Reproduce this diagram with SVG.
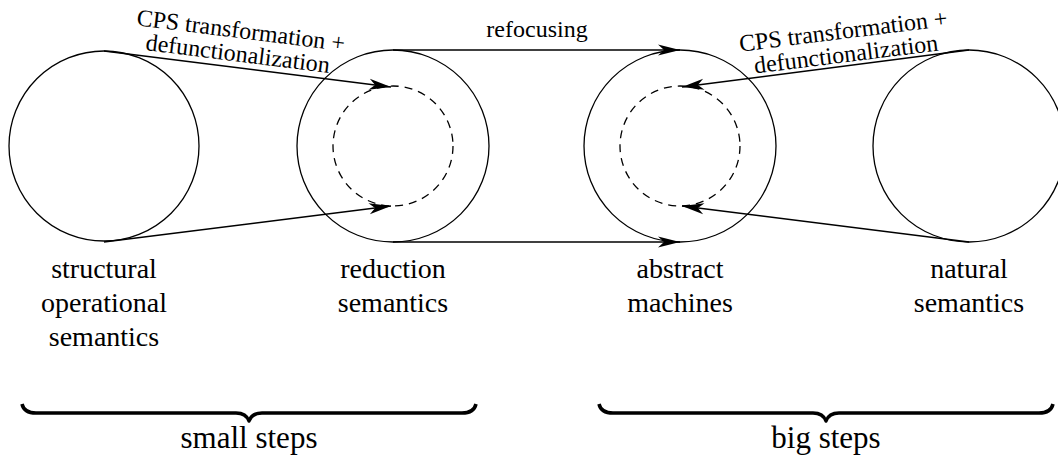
<svg xmlns="http://www.w3.org/2000/svg" width="1058" height="457" viewBox="0 0 1058 457" font-family="'Liberation Serif', 'DejaVu Serif', 'Times New Roman', serif">
<style>
.c{fill:none;stroke:#000;stroke-width:1.3}
.d{fill:none;stroke:#000;stroke-width:1.3;stroke-dasharray:8 6}
.e{fill:none;stroke:#000;stroke-width:1.4;marker-end:url(#ah)}
text{font-family:'Liberation Serif','DejaVu Serif','Times New Roman',serif;fill:#000;text-anchor:middle}
.s{font-size:24px}
.n{font-size:28px}
.b{font-size:31px}
.br{fill:none;stroke:#000;stroke-width:3.5;stroke-linejoin:round}
</style>
<defs>
<marker id="ah" markerUnits="userSpaceOnUse" markerWidth="30" markerHeight="14" refX="0" refY="0" viewBox="-24 -7 26 14" orient="auto" overflow="visible">
<path d="M0,0 L-22,-5.5 L-16,0 L-22,5.5 z" fill="#000"/>
</marker>
</defs>
<g id="n-sos">
<circle class="c" cx="104" cy="146" r="95"/>
<text class="n" x="104" y="278">structural</text>
<text class="n" x="104" y="312">operational</text>
<text class="n" x="104" y="346">semantics</text>
</g>
<g id="n-rs">
<circle class="c" cx="393" cy="146" r="96"/>
<circle class="d" cx="393" cy="146" r="60"/>
<text class="n" x="393" y="278">reduction</text>
<text class="n" x="393" y="312">semantics</text>
</g>
<g id="n-am">
<circle class="c" cx="680" cy="146" r="96"/>
<circle class="d" cx="680" cy="146" r="60"/>
<text class="n" x="680" y="278">abstract</text>
<text class="n" x="680" y="312">machines</text>
</g>
<g id="n-ns">
<circle class="c" cx="969" cy="146" r="96"/>
<text class="n" x="969" y="278">natural</text>
<text class="n" x="969" y="312">semantics</text>
</g>
<g id="connectors">
<line class="e" x1="104" y1="51" x2="391" y2="87"/>
<line class="e" x1="104" y1="242" x2="391" y2="206"/>
<line class="e" x1="393" y1="50" x2="680" y2="50"/>
<line class="e" x1="393" y1="242" x2="680" y2="242"/>
<line class="e" x1="969" y1="50" x2="682" y2="87"/>
<line class="e" x1="969" y1="242" x2="682" y2="206"/>
<g transform="translate(237,61.5) rotate(7.1)">
<text class="s" x="0" y="-23.5">CPS transformation +</text>
<text class="s" x="0" y="0">defunctionalization</text>
</g>
<g transform="translate(847,62) rotate(-7.1)">
<text class="s" x="0" y="-23.5">CPS transformation +</text>
<text class="s" x="0" y="0">defunctionalization</text>
</g>
<text class="s" x="537" y="37">refocusing</text>
</g>
<g id="brace-small">
<path class="br" d="M22,404 Q24,413 36,413 L236,413 Q246,413 249,421 Q252,413 262,413 L462,413 Q474,413 476,404"/>
<text class="b" x="249" y="448">small steps</text>
</g>
<g id="brace-big">
<path class="br" d="M599,404 Q601,413 613,413 L813,413 Q823,413 826,421 Q829,413 839,413 L1039,413 Q1051,413 1053,404"/>
<text class="b" x="826" y="448">big steps</text>
</g>
</svg>
